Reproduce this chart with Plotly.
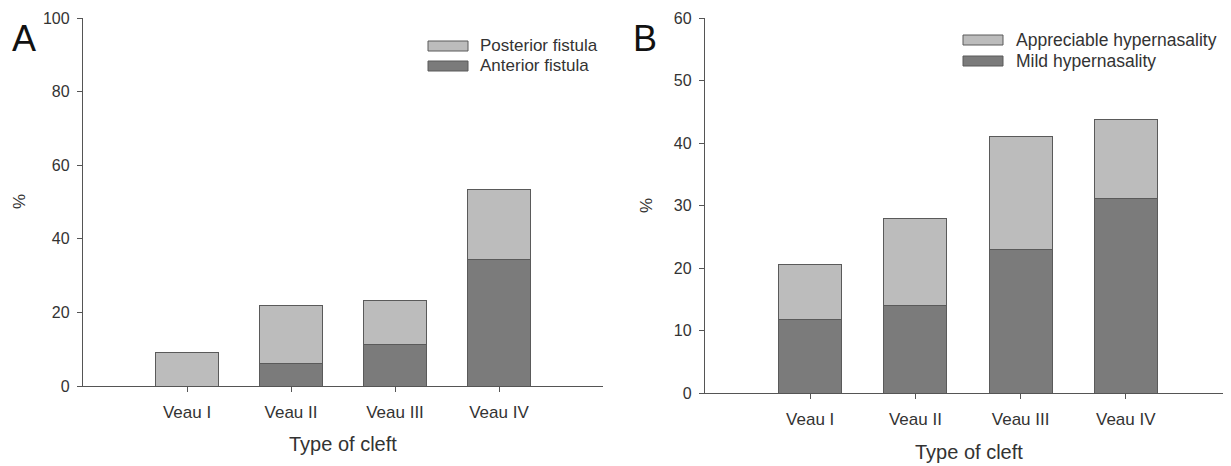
import plotly.graph_objects as go

categories = ["Veau I", "Veau II", "Veau III", "Veau IV"]

# Panel A (%)
anterior_fistula = [0.0, 6.0, 11.3, 34.3]
posterior_fistula = [9.0, 16.0, 11.8, 19.0]   # stacked on top of anterior
# Panel B (%)
mild_hypernasality = [11.8, 14.0, 23.0, 31.2]
appreciable_hypernasality = [8.8, 14.0, 18.0, 12.6]  # stacked on top of mild

a_ticks = [0, 20, 40, 60, 80, 100]
b_ticks = [0, 10, 20, 30, 40, 50, 60]

LIGHT = "#bcbcbc"
DARK = "#7b7b7b"
EDGE = "#5a5a5a"
TXT = "#333333"
FONT = "Liberation Sans, Arial, sans-serif"

# page body has an 8px margin; lay out in screen pixels and compensate
OFF = 8
W, H = 1231 - OFF, 466 - OFF

def px_x(v):
    return (v - OFF) / W

def px_y(v):
    return 1 - (v - OFF) / H

fig = go.Figure()

def bar(y, name, color, xa, ya):
    return go.Bar(x=categories, y=y, name=name, width=0.6,
                  marker=dict(color=color, line=dict(color=EDGE, width=1)),
                  xaxis=xa, yaxis=ya, showlegend=False)

fig.add_trace(bar(anterior_fistula, "Anterior fistula", DARK, "x", "y"))
fig.add_trace(bar(posterior_fistula, "Posterior fistula", LIGHT, "x", "y"))
fig.add_trace(bar(mild_hypernasality, "Mild hypernasality", DARK, "x2", "y2"))
fig.add_trace(bar(appreciable_hypernasality, "Appreciable hypernasality", LIGHT, "x2", "y2"))

axis_common = dict(showline=True, linecolor="#555555", linewidth=1.3,
                   ticks="outside", ticklen=5, tickcolor="#555555",
                   showgrid=False, zeroline=False, automargin=False)
xfont = dict(family=FONT, size=17, color=TXT)
yfont = dict(family=FONT, size=16, color=TXT)

fig.update_layout(
    template="none",
    width=W, height=H, margin=dict(l=0, r=0, t=0, b=0, pad=0),
    autosize=False,
    paper_bgcolor="white", plot_bgcolor="white",
    barmode="stack", showlegend=False,
    font=dict(family=FONT, color=TXT),
    xaxis=dict(domain=[px_x(83), px_x(603)], range=[-1, 4], anchor="y",
               ticklabelstandoff=5, tickfont=xfont, **axis_common),
    yaxis=dict(domain=[px_y(386), px_y(18)], range=[0, 100], tickvals=a_ticks,
               anchor="x", ticklabelstandoff=4, tickfont=yfont, **axis_common),
    xaxis2=dict(domain=[px_x(705), 1.0], range=[-1, 4], anchor="y2",
                ticklabelstandoff=5, tickfont=xfont, **axis_common),
    yaxis2=dict(domain=[px_y(393), px_y(18)], range=[0, 60], tickvals=b_ticks,
                anchor="x2", ticklabelstandoff=4, tickfont=yfont, **axis_common),
)

def txt(text, x, y, size, color=TXT, angle=0, xanchor="center"):
    return dict(text=text, x=px_x(x), y=px_y(y), xref="paper", yref="paper",
                xanchor=xanchor, yanchor="middle", showarrow=False, textangle=angle,
                font=dict(family=FONT, size=size, color=color))

ann = [
    txt("A", 24, 38, 36, "#111111"),
    txt("B", 645, 38, 36, "#111111"),
    txt("%", 19, 202, 17, angle=-90),
    txt("%", 646, 206, 17, angle=-90),
    txt("Type of cleft", 343, 444, 20),
    txt("Type of cleft", 969, 452, 20),
]

shapes = []
legends = [
    (428, 46, LIGHT, "Posterior fistula", 478, 17),
    (428, 66, DARK, "Anterior fistula", 478, 17),
    (963, 40, LIGHT, "Appreciable hypernasality", 1014, 17.5),
    (963, 61, DARK, "Mild hypernasality", 1014, 17.5),
]
for x0, yc, col, label, tx, fs in legends:
    shapes.append(dict(type="rect", xref="paper", yref="paper",
                       x0=px_x(x0), x1=px_x(x0 + 40), y0=px_y(yc - 5), y1=px_y(yc + 5),
                       fillcolor=col, line=dict(color=EDGE, width=1)))
    ann.append(txt(label, tx, yc, fs, xanchor="left"))

fig.update_layout(annotations=ann, shapes=shapes)

fig.write_html("out.html")
